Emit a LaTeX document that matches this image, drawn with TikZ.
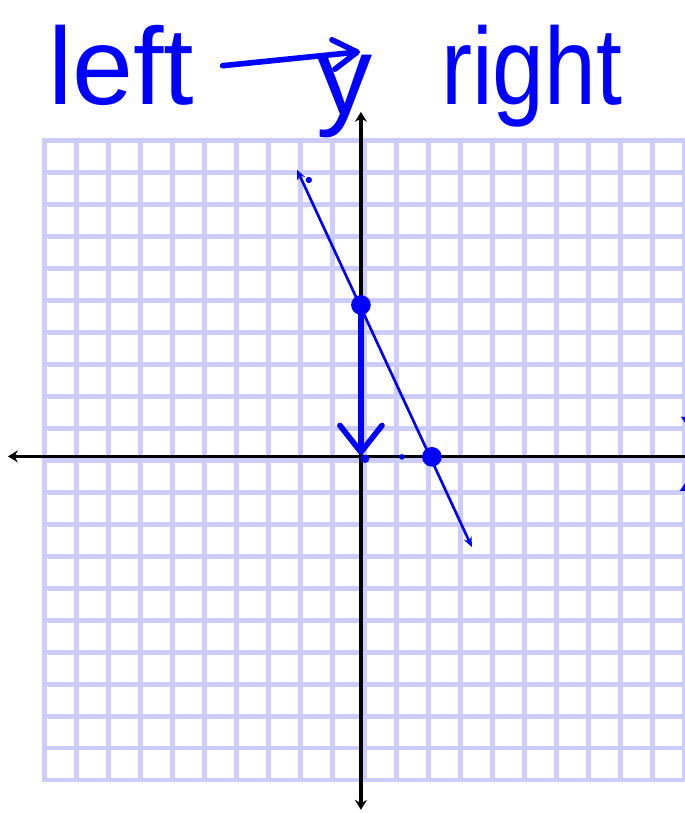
\documentclass[tikz,border=0pt]{standalone}
\usepackage{fontspec}
\setmainfont{Liberation Sans}
\definecolor{gpgrid}{HTML}{CCCCFF}
\definecolor{gpink}{HTML}{0000FF}
\usetikzlibrary{arrows.meta}

\begin{document}
\begin{tikzpicture}[x=8mm, y=8mm,
      gridline/.style={draw=gpgrid, line width=3.4pt, line cap=rect},
      axis/.style={draw=black, line width=2.3pt,
                   {Stealth[length=7pt, width=8.5pt]}-{Stealth[length=7pt, width=8.5pt]}},
      ink/.style={draw=gpink, line width=4pt, line cap=round, line join=round},
      pen/.style={color=gpink, inner sep=0pt, font=\fontsize{78}{78}\selectfont},
      solline/.style={draw=gpink, line width=1.9pt,
                      {Stealth[length=7pt, width=6pt]}-{Stealth[length=7pt, width=6pt]}},
      bigdot/.style={circle, fill=gpink, inner sep=0pt, minimum size=14pt},
      speck/.style={circle, fill=gpink, inner sep=0pt, minimum size=4.5pt},
    ]
    \useasboundingbox (-11.40,-11.03) rectangle (10.02,14.40);

    % ---------- graph paper ----------
    \draw[gridline, step=8mm] (-10,-10) grid (10,10);

    % ---------- axes ----------
    \coordinate (xl) at (-11.15,0.125);
    \coordinate (xr) at (10.60,0.125);
    \coordinate (yt) at (-0.11,10.90);
    \coordinate (yb) at (-0.11,-10.93);
    \draw[axis] (xl) -- (xr);
    \draw[axis] (yb) -- (yt);

    % ---------- the line ----------
    \coordinate (ltop) at (-2.11,9.09);
    \coordinate (lbot) at (3.36,-2.71);
    \draw[solline] (ltop) -- (lbot);
    \node[bigdot] (yint) at (-0.11,4.86) {};
    \node[bigdot] (xint) at (2.11,0.11) {};
    \node[speck] (s1) at (-1.74,8.77) {};
    \node[speck, minimum size=4pt] (s2) at (1.17,0.11) {};
    \node[speck, minimum size=6pt] (s3) at (0.02,0.05) {};

    % ---------- rise down to the origin ----------
    \coordinate (vtip) at (-0.11,0.17);
    \draw[ink, -{Straight Barb[round, length=19pt, width=30pt]}] (yint.center) -- (vtip);

    % ---------- handwriting ----------
    \node[pen, anchor=base west] (left) at (-9.90,11.12) {left};
    \node[pen, anchor=base west, xscale=0.85] (right) at (2.39,11.12) {right};
    \node[pen, anchor=base, font=\fontsize{80}{80}\selectfont] (ylab) at (-0.61,10.81) {y};
    \node[pen, anchor=base west, font=\fontsize{100}{100}\selectfont] (xlab) at (9.80,-0.985) {x};
    \coordinate (yhook) at (-0.14,12.78);
    \draw[ink, -{Straight Barb[round, length=17pt, width=21pt]}]
      ([xshift=7mm]left.east) -- (yhook);

  \end{tikzpicture}
\end{document}
